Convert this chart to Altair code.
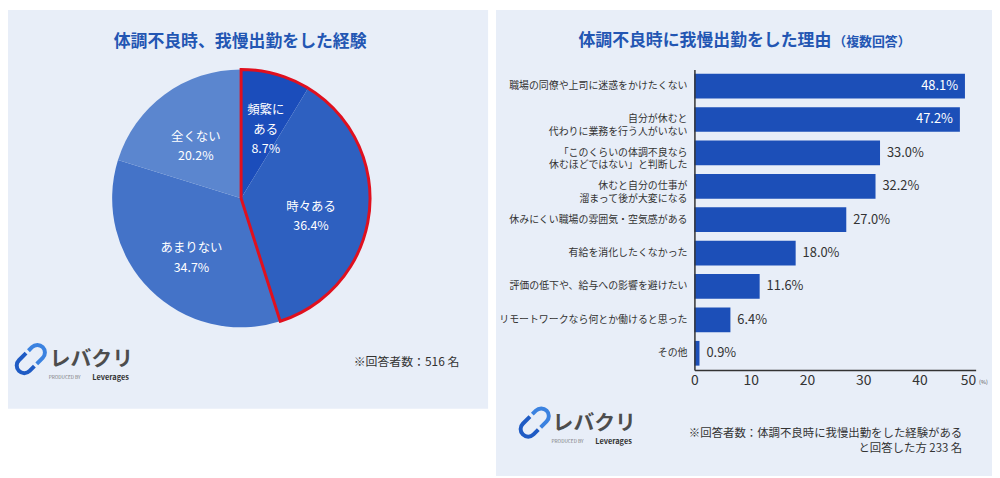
import altair as alt
import pandas as pd

FONT = "Noto Sans CJK JP"
BG = "#e8eef8"
BLUE_TITLE = "#2356b3"
BAR = "#1c4fb8"
DARK = "#333333"

# ---- left panel data (pie) ----
pie_labels = ["頻繁に|ある", "時々ある", "あまりない", "全くない"]
pie_values = [8.7, 36.4, 34.7, 20.2]
pie_colors = ["#1b4dbb", "#2e60c0", "#4473c8", "#5b86cf"]

# ---- right panel data (bars) ----
reasons = [
    "職場の同僚や上司に迷惑をかけたくない",
    "自分が休むと|代わりに業務を行う人がいない",
    "「このくらいの体調不良なら|休むほどではない」と判断した",
    "休むと自分の仕事が|溜まって後が大変になる",
    "休みにくい職場の雰囲気・空気感がある",
    "有給を消化したくなかった",
    "評価の低下や、給与への影響を避けたい",
    "リモートワークなら何とか働けると思った",
    "その他",
]
reason_values = [48.1, 47.2, 33.0, 32.2, 27.0, 18.0, 11.6, 6.4, 0.9]
x_ticks = [0, 10, 20, 30, 40, 50]

# ---- texts ----
left_title = ["体調不良時、我慢出勤をした経験"]
right_title = ["体調不良時に我慢出勤をした理由"]
right_title_suffix = ["（複数回答）"]
left_note = ["※回答者数：516 名"]
right_note = ["※回答者数：体調不良時に我慢出勤をした経験がある|と回答した方 233 名"]
logo_text = ["レバクリ"]
produced_text = ["PRODUCED BY"]
leverages_text = ["Leverages"]
pct_unit = ["(%)"]

pie_df = pd.DataFrame({"name": pie_labels, "v": pie_values, "idx": list(range(len(pie_labels)))})
bar_df = pd.DataFrame({"reason": reasons, "pct": reason_values})
one = pd.DataFrame({"k": [0]})

W, H = 992, 470
CX, CY, R = 235, 190, 130

def txt(lst):
    return alt.Chart(pd.DataFrame({"t": lst}))

# backgrounds
bg_left = alt.Chart(one).mark_rect(color=BG).encode(
    x=alt.value(0), x2=alt.value(484), y=alt.value(0), y2=alt.value(402))
bg_right = alt.Chart(one).mark_rect(color=BG).encode(
    x=alt.value(492), x2=alt.value(W), y=alt.value(0), y2=alt.value(H))

# pie
pie = alt.Chart(pie_df).mark_arc(radius=R).encode(
    theta=alt.Theta("v:Q", stack=True),
    order=alt.Order("idx:Q"),
    color=alt.Color("name:N", scale=alt.Scale(domain=pie_labels, range=pie_colors), legend=None),
    x=alt.value(CX), y=alt.value(CY),
)
outline = alt.Chart(pie_df).transform_filter("datum.idx < 2").transform_aggregate(
    s="sum(v)").mark_arc(radius=R, fillOpacity=0, stroke="#e0101e", strokeWidth=3).encode(
    theta=alt.Theta("s:Q", stack=True),
    x=alt.value(CX), y=alt.value(CY),
)
pie_text = alt.Chart(pie_df).transform_window(
    cum="sum(v)", sort=[alt.SortField("idx")], frame=[None, 0]
).transform_calculate(
    mid="datum.cum - datum.v / 2",
    lab="datum.name + '|' + format(datum.v, '.1f') + '%'",
    lr="datum.v < 10 ? 92 : (datum.v < 25 ? 77 : 71)",
).mark_text(color="white", font=FONT, fontSize=12.5, lineBreak="|", lineHeight=19.5,
            align="center", baseline="middle").encode(
    theta=alt.Theta("mid:Q", stack=None),
    radius=alt.Radius("lr:Q", scale=None),
    text="lab:N",
    x=alt.value(CX), y=alt.value(CY),
)

# bars
xscale = alt.Scale(domain=[0, 50], range=[692, 975.5], nice=False)
yscale = alt.Scale(domain=reasons, range=[60, 363], paddingInner=0.26, paddingOuter=0.13)
bars = alt.Chart(bar_df).mark_bar(color=BAR).encode(
    x=alt.X("pct:Q", scale=xscale,
            axis=alt.Axis(orient="bottom", offset=-107, values=x_ticks, grid=False, ticks=False,
                          tickSize=0, labelPadding=4, labelFontSize=14, labelColor=DARK, labelFont=FONT,
                          labelAlign=alt.ExprRef("datum.value == 50 ? 'right' : 'center'"),
                          domainColor=DARK, domainWidth=1.5, title=None, labelFlush=False, zindex=2)),
    y=alt.Y("reason:N", scale=yscale, sort=reasons,
            axis=alt.Axis(orient="left", offset=-692, labels=False, ticks=False, grid=False,
                          domainColor=DARK, domainWidth=1.5, title=None, zindex=2)),
)
bar_lab_in = alt.Chart(bar_df).transform_filter("datum.pct >= 40").transform_calculate(
    lab="format(datum.pct, '.1f') + '%'").mark_text(
    color="white", font=FONT, fontSize=13, align="right", dx=-7, baseline="middle").encode(
    x=alt.X("pct:Q", scale=xscale), y=alt.Y("reason:N", scale=yscale, sort=reasons), text="lab:N")
bar_lab_out = alt.Chart(bar_df).transform_filter("datum.pct < 40").transform_calculate(
    lab="format(datum.pct, '.1f') + '%'").mark_text(
    color=DARK, font=FONT, fontSize=13, align="left", dx=7, baseline="middle").encode(
    x=alt.X("pct:Q", scale=xscale), y=alt.Y("reason:N", scale=yscale, sort=reasons), text="lab:N")
ylabels = alt.Chart(bar_df).mark_text(
    color=DARK, font=FONT, fontSize=10, align="right", baseline="middle", lineBreak="|", lineHeight=12.5).encode(
    y=alt.Y("reason:N", scale=yscale, sort=reasons), x=alt.value(685), text="reason:N")

# annotations
t_left_title = txt(left_title).mark_text(font=FONT, fontSize=17, fontWeight="bold", color=BLUE_TITLE,
                                          align="center", baseline="middle").encode(
    text="t:N", x=alt.value(234), y=alt.value(32))
t_right_title = txt(right_title).mark_text(font=FONT, fontSize=17, fontWeight="bold", color=BLUE_TITLE,
                                            align="right", baseline="middle").encode(
    text="t:N", x=alt.value(830), y=alt.value(31))
t_right_suffix = txt(right_title_suffix).mark_text(font=FONT, fontSize=13, fontWeight="bold", color=BLUE_TITLE,
                                                   align="left", baseline="middle").encode(
    text="t:N", x=alt.value(832), y=alt.value(32))
t_left_note = txt(left_note).mark_text(font=FONT, fontSize=12, color=DARK, align="right",
                                       baseline="middle").encode(
    text="t:N", x=alt.value(455), y=alt.value(355))
t_right_note = txt(right_note).mark_text(font=FONT, fontSize=11.5, color=DARK, align="right",
                                         baseline="middle", lineBreak="|", lineHeight=14.5).encode(
    text="t:N", x=alt.value(962), y=alt.value(428))
t_unit = txt(pct_unit).mark_text(font=FONT, fontSize=5.5, color="#555555", align="left",
                                 baseline="middle").encode(
    text="t:N", x=alt.value(979), y=alt.value(375))

LEFT_HOOK = "M 0.05 -0.45 L -0.55 -0.45 A 0.45 0.45 0 0 0 -0.55 0.45 L -0.15 0.45"
RIGHT_HOOK = "M 0.05 0.45 L 0.55 0.45 A 0.45 0.45 0 0 0 0.55 -0.45 L 0.25 -0.45"

def logo(ix, iy, tx, ty):
    a = alt.Chart(one).mark_point(shape=LEFT_HOOK, filled=False, size=1150, angle=315,
                                  stroke="#1f5bc4", strokeWidth=4, opacity=1).encode(
        x=alt.value(ix), y=alt.value(iy))
    b = alt.Chart(one).mark_point(shape=RIGHT_HOOK, filled=False, size=1150, angle=315,
                                  stroke="#3b82e0", strokeWidth=4, opacity=1).encode(
        x=alt.value(ix), y=alt.value(iy))
    c = txt(logo_text).mark_text(font=FONT, fontSize=21, fontWeight="bold", color="#4d4d4d",
                                 align="left", baseline="middle").encode(
        text="t:N", x=alt.value(tx), y=alt.value(ty - 0.5))
    d = txt(produced_text).mark_text(font=FONT, fontSize=4.8, color="#777777",
                                     align="left", baseline="middle").encode(
        text="t:N", x=alt.value(tx - 1), y=alt.value(ty + 18))
    e = txt(leverages_text).mark_text(font=FONT, fontSize=7.5, fontWeight="bold", color="#333333",
                                      align="left", baseline="middle").encode(
        text="t:N", x=alt.value(tx + 43), y=alt.value(ty + 18))
    return [a, b, c, d, e]

layers = [bg_left, bg_right, pie, outline, pie_text, bars, bar_lab_in, bar_lab_out, ylabels,
          t_left_title, t_right_title, t_right_suffix, t_left_note, t_right_note, t_unit]
layers += logo(23, 352, 42, 353.5)
layers += logo(531, 416, 549, 418)

chart = alt.layer(*layers).properties(
    width=W, height=H, padding=0, autosize=alt.AutoSizeParams(type="none"),
    background="white",
).configure_view(stroke=None).configure_text(font=FONT)

chart.save("out.html", embed_options={"renderer": "svg", "actions": False})
